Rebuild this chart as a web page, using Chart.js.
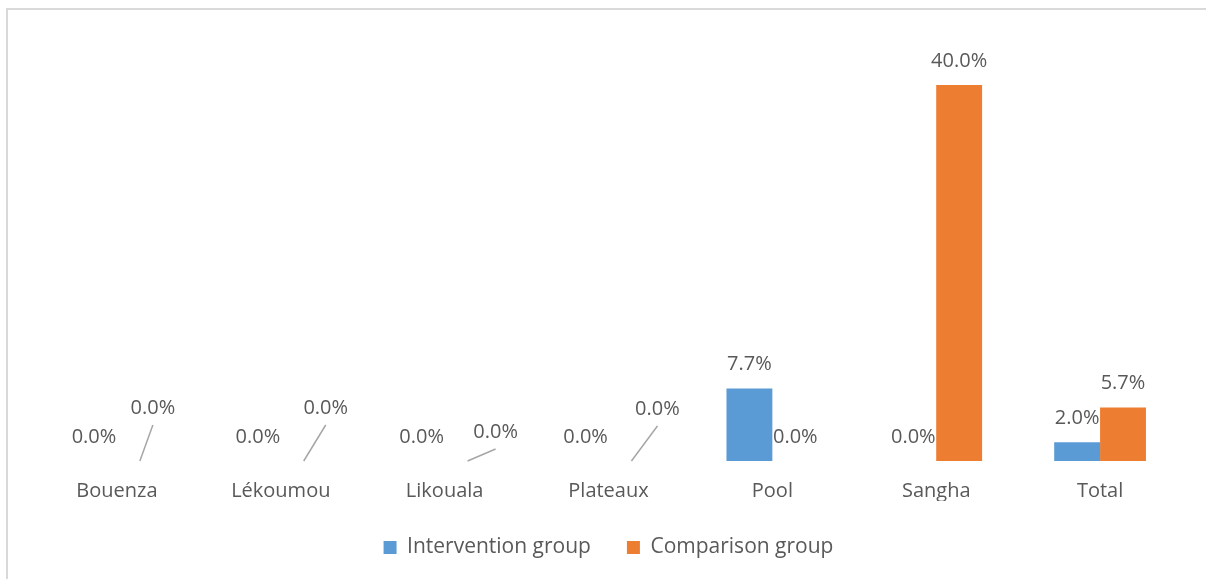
<!DOCTYPE html>
<html>
<head>
<meta charset="utf-8">
<script src="https://cdn.jsdelivr.net/npm/chart.js@4"></script>
<style>
  html, body { margin: 0; padding: 0; background: #fff; overflow: hidden; }
  #wrap { position: relative; width: 1206px; height: 579px; }
  #frame { position: absolute; left: 6px; top: 8px; width: 1300px; height: 700px;
           border: 2px solid #d9d9d9; box-sizing: border-box; pointer-events: none; }
  canvas { position: absolute; left: 0; top: 0; }
</style>
</head>
<body>
<div id="wrap">
  <canvas id="c" width="1206" height="579"></canvas>
  <div id="frame"></div>
</div>
<script>
const REGIONS      = ["Bouenza", "Lékoumou", "Likouala", "Plateaux", "Pool", "Sangha", "Total"];
const INTERVENTION = [0.0, 0.0, 0.0, 0.0, 7.7, 0.0, 2.0];
const COMPARISON   = [0.0, 0.0, 0.0, 0.0, 0.0, 40.0, 5.7];

const TEXT = "#595959";
const FONT = "'Open Sans', sans-serif";

// Excel moved a few zero labels aside and joined them with leader lines
const LABEL_NUDGE = {
  "1-0": { dx: 13, dy: -29 },
  "1-1": { dx: 22, dy: -29 },
  "1-2": { dx: 28, dy: -5 },
  "1-3": { dx: 26, dy: -28 },
};

const valueLabels = {
  id: "valueLabels",
  afterDatasetsDraw(chart) {
    const ctx = chart.ctx;
    const base = chart.scales.y.getPixelForValue(0);
    ctx.save();
    ctx.font = "20px " + FONT;
    ctx.fillStyle = TEXT;
    ctx.textAlign = "center";
    ctx.textBaseline = "middle";
    chart.data.datasets.forEach((ds, di) => {
      chart.getDatasetMeta(di).data.forEach((bar, i) => {
        const nudge = LABEL_NUDGE[di + "-" + i];
        let x = bar.x, y = bar.y - 24;
        if (nudge) {
          x += nudge.dx; y += nudge.dy;
          ctx.beginPath();
          ctx.strokeStyle = "#a6a6a6";
          ctx.lineWidth = 1.5;
          ctx.moveTo(bar.x, base);
          ctx.lineTo(x, y + 17);
          ctx.stroke();
        }
        ctx.fillText(ds.data[i].toFixed(1) + "%", x, y);
      });
    });
    ctx.restore();
  },
};

new Chart(document.getElementById("c"), {
  type: "bar",
  data: {
    labels: REGIONS,
    datasets: [
      { label: "Intervention group", data: INTERVENTION, backgroundColor: "#5b9bd5" },
      { label: "Comparison group",   data: COMPARISON,   backgroundColor: "#ed7d31" },
    ],
  },
  options: {
    responsive: false,
    animation: false,
    layout: { padding: { left: 35, right: 24, top: 85, bottom: 18 } },
    datasets: { bar: { categoryPercentage: 0.56, barPercentage: 1.0 } },
    plugins: {
      tooltip: { enabled: false },
      legend: {
        position: "bottom",
        maxHeight: 60,
        labels: {
          color: TEXT,
          font: { family: FONT, size: 21 },
          boxWidth: 13,
          boxHeight: 13,
          padding: 36,
        },
      },
    },
    scales: {
      y: { display: false, min: 0, max: 40 },
      x: {
        grid: { display: false, tickLength: 0 },
        border: { display: false },
        ticks: { color: TEXT, font: { family: FONT, size: 20, lineHeight: 1.0 }, padding: 20 },
        afterFit: (scale) => { scale.height = 40; },
      },
    },
  },
  plugins: [valueLabels],
});
</script>
</body>
</html>
